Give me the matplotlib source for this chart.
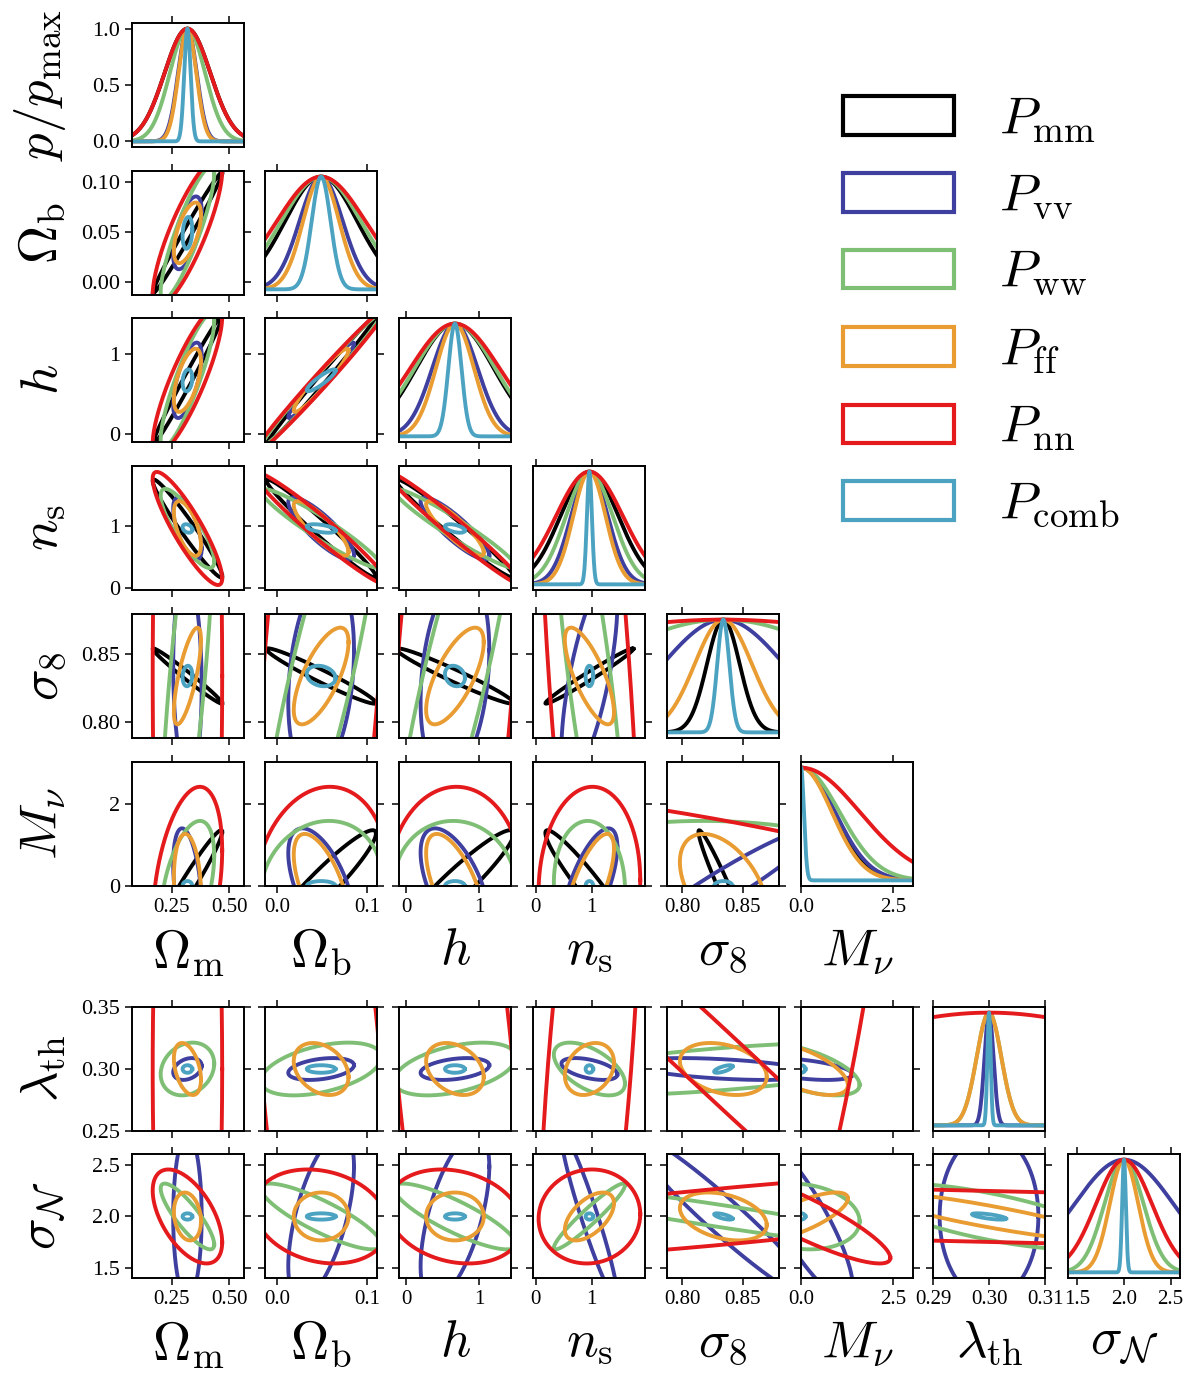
import numpy as np
import matplotlib
matplotlib.use("Agg")
import matplotlib.pyplot as plt
from matplotlib.patches import Rectangle

plt.rcParams["mathtext.fontset"] = "cm"
plt.rcParams["font.family"] = "serif"
plt.rcParams["font.serif"] = ["Liberation Serif", "DejaVu Serif"]

# parameters: Om, Ob, h, ns, s8, Mnu, lam_th, sigma_N
param_labels = [r"$\Omega_{\rm m}$", r"$\Omega_{\rm b}$", r"$h$", r"$n_{\rm s}$",
                r"$\sigma_8$", r"$M_\nu$", r"$\lambda_{\rm th}$", r"$\sigma_{\mathcal{N}}$"]
fiducial = [0.3175, 0.049, 0.6711, 0.9624, 0.834, 0.0, 0.30, 2.0]

probe_labels = [r"$P_{\rm mm}$", r"$P_{\rm vv}$", r"$P_{\rm ww}$",
                r"$P_{\rm ff}$", r"$P_{\rm nn}$", r"$P_{\rm comb}$"]
colors = ["#000000", "#3f3f9f", "#7fbf75", "#e99c32", "#e41a1c", "#4ca3c1"]

# marginal 1-sigma errors per probe
sig_mm = [0.100, 0.040, 0.53, 0.52, 0.0135, 0.90, np.nan, np.nan]
sig_vv = [0.041, 0.024, 0.31, 0.33, 0.050, 0.93, 0.0058, 0.53]
sig_ww = [0.077, 0.044, 0.55, 0.42, 0.110, 1.05, 0.014, 0.21]
sig_ff = [0.039, 0.020, 0.26, 0.29, 0.0236, 0.84, 0.0138, 0.153]
sig_nn = [0.100, 0.049, 0.61, 0.60, 0.22, 1.60, 0.20, 0.30]
sig_comb = [0.014, 0.0105, 0.09, 0.045, 0.005, 0.08, 0.002, 0.02]
sigmas = [sig_mm, sig_vv, sig_ww, sig_ff, sig_nn, sig_comb]

# the lambda_th 1D panel is drawn narrower than its 2D contours
sig_lam_1d = [np.nan, 0.0008, 0.0022, 0.0022, 0.035, 0.0003]

# correlation coefficients, order: mm, vv, ww, ff, nn, comb
nan = np.nan
corr = {
    (0, 1): [0.99, 0.60, 0.88, 0.60, 0.83, 0.20],
    (0, 2): [0.99, 0.65, 0.88, 0.60, 0.85, 0.20],
    (1, 2): [0.995, 0.97, 0.99, 0.95, 0.99, 0.90],
    (0, 3): [-0.97, -0.64, -0.83, -0.60, -0.88, -0.30],
    (1, 3): [-0.98, -0.85, -0.95, -0.85, -0.97, -0.50],
    (2, 3): [-0.98, -0.88, -0.96, -0.88, -0.98, -0.50],
    (0, 4): [-0.985, -0.10, 0.75, 0.74, 0.0, 0.10],
    (1, 4): [-0.97, 0.25, 0.85, 0.70, 0.50, -0.20],
    (2, 4): [-0.97, 0.25, 0.85, 0.70, 0.50, -0.20],
    (3, 4): [0.985, 0.70, -0.80, -0.75, -0.60, 0.0],
    (0, 5): [0.97, -0.38, 0.47, -0.16, 0.36, 0.0],
    (1, 5): [0.94, -0.57, 0.13, -0.60, 0.13, 0.0],
    (2, 5): [0.94, -0.58, -0.03, -0.63, 0.02, 0.0],
    (3, 5): [-0.95, 0.68, -0.05, 0.72, 0.06, 0.0],
    (4, 5): [-0.97, 0.95, -0.10, -0.46, -0.75, 0.0],
    (0, 6): [nan, 0.30, 0.20, -0.40, 0.0, 0.0],
    (1, 6): [nan, 0.35, 0.45, -0.30, -0.45, 0.0],
    (2, 6): [nan, 0.35, 0.45, -0.30, -0.50, 0.0],
    (3, 6): [nan, -0.50, -0.55, 0.25, 0.57, 0.0],
    (4, 6): [nan, -0.45, 0.60, -0.30, -0.994, 0.70],
    (5, 6): [nan, -0.50, -0.60, -0.62, 0.82, 0.0],
    (0, 7): [nan, 0.0, -0.85, -0.20, -0.55, 0.0],
    (1, 7): [nan, 0.60, -0.85, 0.0, -0.20, 0.0],
    (2, 7): [nan, 0.60, -0.85, 0.0, -0.20, 0.0],
    (3, 7): [nan, -0.95, 0.95, 0.55, 0.05, 0.0],
    (4, 7): [nan, -0.96, -0.94, -0.35, 0.80, -0.70],
    (5, 7): [nan, -0.85, -0.15, 0.75, -0.88, 0.0],
    (6, 7): [nan, 0.0, -0.70, -0.89, -0.84, -0.70],
}

xlims = [(0.075, 0.565), (-0.0133, 0.111), (-0.096, 1.44), (-0.05, 1.96),
         (0.7875, 0.880), (0.0, 3.05), (0.29, 0.31), (1.40, 2.60)]
ylims = [(-0.05, 1.05), (-0.0133, 0.111), (-0.1, 1.45), (-0.03, 1.97),
         (0.788, 0.880), (0.0, 3.04), (0.25, 0.35), (1.403, 2.606)]

xticks = [[0.25, 0.50], [0.0, 0.1], [0, 1], [0, 1], [0.80, 0.85], [0.0, 2.5],
          [0.29, 0.30, 0.31], [1.5, 2.0, 2.5]]
xticklabels = [["0.25", "0.50"], ["0.0", "0.1"], ["0", "1"], ["0", "1"],
               ["0.80", "0.85"], ["0.0", "2.5"], ["0.29", "0.30", "0.31"],
               ["1.5", "2.0", "2.5"]]
yticks = [[0.0, 0.5, 1.0], [0.00, 0.05, 0.10], [0, 1], [0, 1], [0.80, 0.85],
          [0, 2], [0.25, 0.30, 0.35], [1.5, 2.0, 2.5]]
yticklabels = [["0.0", "0.5", "1.0"], ["0.00", "0.05", "0.10"], ["0", "1"],
               ["0", "1"], ["0.80", "0.85"], ["0", "2"], ["0.25", "0.30", "0.35"],
               ["1.5", "2.0", "2.5"]]

K = 1.52  # sqrt(delta chi2 = 2.3)
LW = 2.8
W, H = 1200, 1388
row_top = [23, 171, 318, 466, 614, 762, 1007, 1154]
col_left = [132, 265, 399, 533, 667, 801, 933, 1068]
pw, ph = 112, 124


def ellipse(cx, cy, sx, sy, r, n=300):
    t = np.linspace(0, 2 * np.pi, n)
    x = cx + K * sx * np.cos(t)
    y = cy + K * sy * (r * np.cos(t) + np.sqrt(1 - r * r) * np.sin(t))
    return x, y


def style(ax, diag, row, col):
    for s in ax.spines.values():
        s.set_linewidth(1.4)
    ax.tick_params(direction="out", length=5, width=1.1,
                   top=True, bottom=True, left=not diag or row == 0,
                   right=not diag, labeltop=False, labelright=False,
                   labelbottom=row in (5, 7), labelleft=(col == 0))
    ax.tick_params(axis="x", labelsize=15)
    ax.tick_params(axis="y", labelsize=16)


fig = plt.figure(figsize=(12, 13.88), dpi=100)

for row in range(8):
    for col in range(row + 1):
        ax = fig.add_axes([col_left[col] / W, 1 - (row_top[row] + ph) / H, pw / W, ph / H])
        diag = col == row
        if diag:
            x = np.linspace(*xlims[col], 600)
            for p in range(6):
                s = sig_lam_1d[p] if col == 6 else sigmas[p][col]
                if np.isnan(s):
                    continue
                ax.plot(x, np.exp(-0.5 * ((x - fiducial[col]) / s) ** 2),
                        color=colors[p], lw=LW)
            ax.set_ylim(-0.05, 1.05)
        else:
            for p in range(6):
                r = corr[(col, row)][p]
                if np.isnan(r):
                    continue
                ex, ey = ellipse(fiducial[col], fiducial[row], sigmas[p][col],
                                 sigmas[p][row], r)
                ax.plot(ex, ey, color=colors[p], lw=LW)
            ax.set_ylim(*ylims[row])
        ax.set_xlim(*xlims[col])
        ax.set_xticks(xticks[col])
        ax.set_xticklabels(xticklabels[col])
        if not diag or row == 0:
            ax.set_yticks(yticks[row])
            ax.set_yticklabels(yticklabels[row])
        else:
            ax.set_yticks([])
        style(ax, diag, row, col)
        if col == 0:
            ax.set_ylabel(r"$p/p_{\rm max}$" if row == 0 else param_labels[row],
                          fontsize=38)
            ax.yaxis.set_label_coords(-0.57, 0.5)
        if row in (5, 7):
            ax.set_xlabel(param_labels[col], fontsize=38, va="top")
            ax.xaxis.set_label_coords(0.5, -0.33)

handles = [Rectangle((0, 0), 1, 1, facecolor="none", edgecolor=c, lw=3) for c in colors]
fig.legend(handles, probe_labels, loc="upper left",
           bbox_to_anchor=(843 / W, 1 - 95 / H), frameon=False, fontsize=38,
           handlelength=2.1, handleheight=0.75, labelspacing=0.52,
           handletextpad=0.85, borderpad=0, borderaxespad=0)

fig.savefig("out.png", dpi=100)
